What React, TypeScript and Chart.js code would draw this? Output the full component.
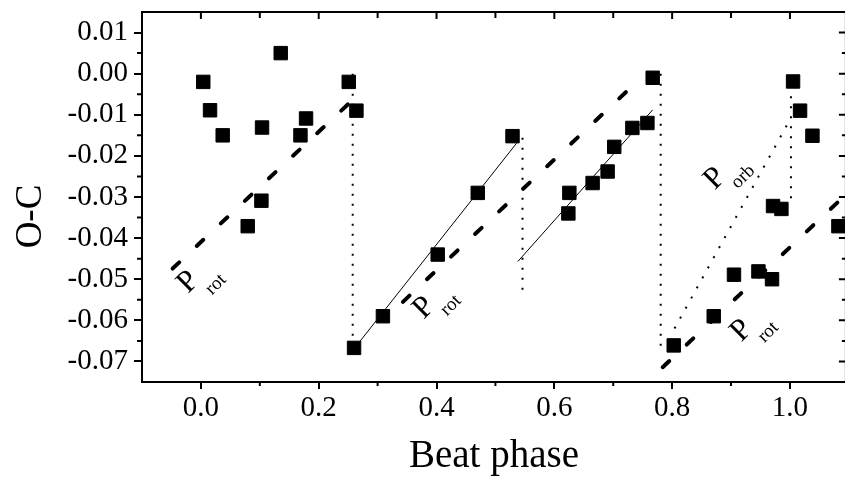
import { useEffect, useRef } from 'react';
import { Chart, registerables } from 'chart.js';

Chart.register(...registerables);

// ---- axis ticks ----
const X_TICKS = [0, 0.2, 0.4, 0.6, 0.8, 1.0];
const X_MINOR = [0.1, 0.3, 0.5, 0.7, 0.9];
const Y_TICKS = [0.01, 0.0, -0.01, -0.02, -0.03, -0.04, -0.05, -0.06, -0.07];
const Y_MINOR = [0.005, -0.005, -0.015, -0.025, -0.035, -0.045, -0.055, -0.065];

// ---- measured O-C values ----
const PHASE = [
  0.004, 0.0155, 0.037, 0.0795, 0.1027, 0.1038, 0.1355, 0.169, 0.1785, 0.251, 0.264,
  0.26, 0.309, 0.402, 0.47, 0.529,
  0.6238, 0.6255, 0.665, 0.6905, 0.7017, 0.7325, 0.758, 0.767,
  0.8027, 0.8706, 0.905, 0.9465, 0.9696, 0.9713, 0.9855, 1.0053, 1.0172, 1.0382, 1.0823,
];
const OC = [
  -0.002, -0.0089, -0.015, -0.0371, -0.0309, -0.0131, 0.005, -0.015, -0.0109, -0.002, -0.009,
  -0.0667, -0.059, -0.044, -0.029, -0.0152,
  -0.034, -0.029, -0.0266, -0.0238, -0.0178, -0.0132, -0.012, -0.001,
  -0.0661, -0.059, -0.0489, -0.0481, -0.05, -0.0322, -0.0329, -0.0019, -0.009, -0.0151, -0.0371,
];

// ---- P_rot trend lines (dashed) ----
const ROT1_X = [-0.048, 0.259];
const ROT1_Y = [-0.0474, -0.0062];
const ROT2_X = [0.343, 0.737];
const ROT2_Y = [-0.0555, -0.0024];
const ROT3_X = [0.784, 1.095];
const ROT3_Y = [-0.0714, -0.0294];

// ---- thin fitted lines ----
const FIT1_X = [0.2645, 0.536];
const FIT1_Y = [-0.0661, -0.0169];
const FIT2_X = [0.538, 0.767];
const FIT2_Y = [-0.0457, -0.0088];

// ---- dotted jumps ----
const JUMP1_X = [0.2577, 0.2577];
const JUMP1_Y = [0.0, -0.065];
const JUMP2_X = [0.546, 0.546];
const JUMP2_Y = [-0.0156, -0.0526];
const JUMP3_X = [0.7806, 0.7806];
const JUMP3_Y = [0.0, -0.0665];
const JUMP4_X = [1.0017, 1.0017];
const JUMP4_Y = [-0.0055, -0.0308];
const ORB_X = [0.804, 0.995];
const ORB_Y = [-0.062, -0.0125];

// ---- annotation labels ----
const LABEL_MAIN = ['P', 'P', 'P', 'P'];
const LABEL_SUB = ['rot', 'rot', 'orb', 'rot'];
const LABEL_X = [-0.0214, 0.3787, 0.8728, 0.918];
const LABEL_Y = [-0.0507, -0.057, -0.02555, -0.0625];
const SUB_X = [0.0256, 0.4246, 0.9208, 0.9633];
const SUB_Y = [-0.0513, -0.0564, -0.0251, -0.0629];

const X_TITLE = 'Beat phase';
const Y_TITLE = 'O-C';

const FONT = "'Liberation Serif', 'Times New Roman', serif";

function seg(xs: number[], ys: number[], kind: 'dash' | 'thin' | 'dot' | 'orb') {
  const base: any = {
    data: xs.map((x, i) => ({ x, y: ys[i] })),
    showLine: true,
    pointRadius: 0,
    pointHoverRadius: 0,
    borderColor: '#000',
    backgroundColor: '#000',
    fill: false,
  };
  if (kind === 'dash') {
    base.borderWidth = 4;
    base.borderDash = [9, 24];
    base.borderCapStyle = 'round';
  } else if (kind === 'thin') {
    base.borderWidth = 1;
  } else if (kind === 'dot') {
    base.borderWidth = 2;
    base.borderDash = [2, 8];
  } else {
    base.borderWidth = 2;
    base.borderDash = [2, 9.5];
  }
  return base;
}

const framePlugin = {
  id: 'frame',
  afterDraw(chart: any) {
    const { ctx, chartArea: a, scales } = chart;
    const x = scales.x;
    const y = scales.y;
    ctx.save();
    ctx.strokeStyle = '#000';
    ctx.lineWidth = 2;
    ctx.beginPath();
    ctx.moveTo(a.left, a.top);
    ctx.lineTo(a.right, a.top);
    ctx.lineTo(a.right, a.bottom);
    ctx.stroke();
    ctx.beginPath();
    for (const v of X_TICKS) {
      const px = x.getPixelForValue(v);
      ctx.moveTo(px, a.top);
      ctx.lineTo(px, a.top + 7);
    }
    for (const v of X_MINOR) {
      const px = x.getPixelForValue(v);
      ctx.moveTo(px, a.top);
      ctx.lineTo(px, a.top + 6);
      ctx.moveTo(px, a.bottom);
      ctx.lineTo(px, a.bottom + 4);
    }
    for (const v of Y_TICKS) {
      const py = y.getPixelForValue(v);
      ctx.moveTo(a.right, py);
      ctx.lineTo(a.right - 7, py);
    }
    for (const v of Y_MINOR) {
      const py = y.getPixelForValue(v);
      ctx.moveTo(a.left, py);
      ctx.lineTo(a.left - 5, py);
      ctx.moveTo(a.right, py);
      ctx.lineTo(a.right - 4, py);
    }
    ctx.stroke();

    // y axis title
    ctx.fillStyle = '#000';
    ctx.font = `37px ${FONT}`;
    ctx.textAlign = 'center';
    ctx.textBaseline = 'middle';
    ctx.translate(31, 216.5);
    ctx.rotate(-Math.PI / 2);
    ctx.fillText(Y_TITLE, 0, 0);
    ctx.restore();
  },
};

const labelPlugin = {
  id: 'plabels',
  afterDatasetsDraw(chart: any) {
    const { ctx, scales } = chart;
    const x = scales.x;
    const y = scales.y;
    ctx.save();
    ctx.fillStyle = '#000';
    ctx.textAlign = 'center';
    ctx.textBaseline = 'middle';
    LABEL_MAIN.forEach((t, i) => {
      ctx.save();
      ctx.translate(x.getPixelForValue(LABEL_X[i]), y.getPixelForValue(LABEL_Y[i]));
      ctx.rotate(-Math.PI / 4);
      ctx.font = `31px ${FONT}`;
      ctx.fillText(t, 0, 0);
      ctx.restore();
      ctx.save();
      ctx.translate(x.getPixelForValue(SUB_X[i]), y.getPixelForValue(SUB_Y[i]));
      ctx.rotate(-Math.PI / 4);
      ctx.font = `19px ${FONT}`;
      ctx.fillText(LABEL_SUB[i], 0, 0);
      ctx.restore();
    });
    ctx.restore();
  },
};

export default function App() {
  const ref = useRef<HTMLCanvasElement | null>(null);

  useEffect(() => {
    if (!ref.current) return;
    const chart = new Chart(ref.current, {
      type: 'scatter',
      data: {
        datasets: [
          {
            data: PHASE.map((x, i) => ({ x, y: OC[i] })),
            pointStyle: 'rect',
            pointRadius: 9.5,
            pointHoverRadius: 9.5,
            pointBorderWidth: 1,
            backgroundColor: '#000',
            borderColor: '#000',
          } as any,
          seg(ROT1_X, ROT1_Y, 'dash'),
          seg(ROT2_X, ROT2_Y, 'dash'),
          seg(ROT3_X, ROT3_Y, 'dash'),
          seg(FIT1_X, FIT1_Y, 'thin'),
          seg(FIT2_X, FIT2_Y, 'thin'),
          seg(JUMP1_X, JUMP1_Y, 'dot'),
          seg(JUMP2_X, JUMP2_Y, 'dot'),
          seg(JUMP3_X, JUMP3_Y, 'dot'),
          seg(JUMP4_X, JUMP4_Y, 'dot'),
          seg(ORB_X, ORB_Y, 'orb'),
        ],
      },
      options: {
        responsive: false,
        devicePixelRatio: 1,
        animation: false,
        events: [],
        layout: { padding: { left: 0, top: 12, right: 14.1, bottom: 0 } },
        plugins: { legend: { display: false }, tooltip: { enabled: false } },
        scales: {
          x: {
            type: 'linear',
            position: 'bottom',
            min: -0.1,
            max: 1.095,
            afterBuildTicks: (s: any) => {
              s.ticks = X_TICKS.map((v) => ({ value: v }));
            },
            afterFit: (s: any) => {
              s.height = 96;
              s.paddingLeft = 0;
              s.paddingRight = 0;
            },
            grid: {
              drawOnChartArea: false,
              drawTicks: true,
              tickLength: 7,
              color: '#000',
              lineWidth: 2,
            },
            border: { display: true, color: '#000', width: 2 },
            ticks: {
              color: '#000',
              padding: 2.4,
              font: { family: FONT, size: 29 },
              callback: (v: any) => Number(v).toFixed(1),
            },
            title: {
              display: true,
              text: X_TITLE,
              color: '#000',
              font: { family: FONT, size: 39, lineHeight: 1 },
              padding: { top: 0, bottom: 1.7 },
            },
          },
          y: {
            type: 'linear',
            position: 'left',
            min: -0.075,
            max: 0.015,
            afterBuildTicks: (s: any) => {
              s.ticks = Y_TICKS.map((v) => ({ value: v }));
            },
            afterFit: (s: any) => {
              s.width = 142;
              s.paddingTop = 0;
              s.paddingBottom = 0;
            },
            grid: {
              drawOnChartArea: false,
              drawTicks: true,
              tickLength: 8,
              color: '#000',
              lineWidth: 2,
            },
            border: { display: true, color: '#000', width: 2 },
            ticks: {
              color: '#000',
              padding: 6,
              font: { family: FONT, size: 29 },
              callback: (v: any) => {
                const n = Number(v);
                return Math.abs(n) < 1e-9 ? '0.00' : n.toFixed(2);
              },
            },
          },
        },
      },
      plugins: [framePlugin, labelPlugin],
    } as any);
    return () => chart.destroy();
  }, []);

  return (
    <div
      style={{
        position: 'fixed',
        left: 0,
        top: 0,
        width: 845,
        height: 478,
        overflow: 'hidden',
        background: '#fff',
      }}
    >
      <canvas ref={ref} width={860} height={478} style={{ width: 860, height: 478, display: 'block' }} />
    </div>
  );
}
